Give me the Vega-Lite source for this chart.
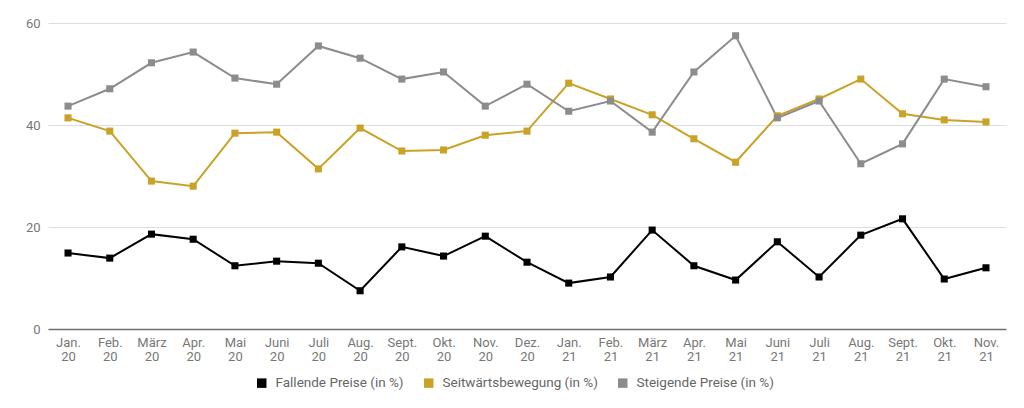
{
  "$schema": "https://vega.github.io/schema/vega-lite/v6.json",
  "width": 958,
  "height": 306,
  "autosize": {"type": "none"},
  "padding": {"left": 48, "top": 23, "right": 18, "bottom": 79},
  "background": "white",
  "data": {
    "values": [
      {"month": "Jan. 20", "series": "Fallende Preise (in %)", "value": 14.9},
      {"month": "Feb. 20", "series": "Fallende Preise (in %)", "value": 13.9},
      {"month": "März 20", "series": "Fallende Preise (in %)", "value": 18.6},
      {"month": "Apr. 20", "series": "Fallende Preise (in %)", "value": 17.6},
      {"month": "Mai 20", "series": "Fallende Preise (in %)", "value": 12.4},
      {"month": "Juni 20", "series": "Fallende Preise (in %)", "value": 13.3},
      {"month": "Juli 20", "series": "Fallende Preise (in %)", "value": 12.9},
      {"month": "Aug. 20", "series": "Fallende Preise (in %)", "value": 7.5},
      {"month": "Sept. 20", "series": "Fallende Preise (in %)", "value": 16.1},
      {"month": "Okt. 20", "series": "Fallende Preise (in %)", "value": 14.3},
      {"month": "Nov. 20", "series": "Fallende Preise (in %)", "value": 18.2},
      {"month": "Dez. 20", "series": "Fallende Preise (in %)", "value": 13.1},
      {"month": "Jan. 21", "series": "Fallende Preise (in %)", "value": 9.0},
      {"month": "Feb. 21", "series": "Fallende Preise (in %)", "value": 10.2},
      {"month": "März 21", "series": "Fallende Preise (in %)", "value": 19.4},
      {"month": "Apr. 21", "series": "Fallende Preise (in %)", "value": 12.4},
      {"month": "Mai 21", "series": "Fallende Preise (in %)", "value": 9.6},
      {"month": "Juni 21", "series": "Fallende Preise (in %)", "value": 17.1},
      {"month": "Juli 21", "series": "Fallende Preise (in %)", "value": 10.2},
      {"month": "Aug. 21", "series": "Fallende Preise (in %)", "value": 18.4},
      {"month": "Sept. 21", "series": "Fallende Preise (in %)", "value": 21.6},
      {"month": "Okt. 21", "series": "Fallende Preise (in %)", "value": 9.8},
      {"month": "Nov. 21", "series": "Fallende Preise (in %)", "value": 12.0},
      {"month": "Jan. 20", "series": "Seitwärtsbewegung (in %)", "value": 41.4},
      {"month": "Feb. 20", "series": "Seitwärtsbewegung (in %)", "value": 38.8},
      {"month": "März 20", "series": "Seitwärtsbewegung (in %)", "value": 29.0},
      {"month": "Apr. 20", "series": "Seitwärtsbewegung (in %)", "value": 28.0},
      {"month": "Mai 20", "series": "Seitwärtsbewegung (in %)", "value": 38.4},
      {"month": "Juni 20", "series": "Seitwärtsbewegung (in %)", "value": 38.6},
      {"month": "Juli 20", "series": "Seitwärtsbewegung (in %)", "value": 31.4},
      {"month": "Aug. 20", "series": "Seitwärtsbewegung (in %)", "value": 39.4},
      {"month": "Sept. 20", "series": "Seitwärtsbewegung (in %)", "value": 34.9},
      {"month": "Okt. 20", "series": "Seitwärtsbewegung (in %)", "value": 35.1},
      {"month": "Nov. 20", "series": "Seitwärtsbewegung (in %)", "value": 38.0},
      {"month": "Dez. 20", "series": "Seitwärtsbewegung (in %)", "value": 38.8},
      {"month": "Jan. 21", "series": "Seitwärtsbewegung (in %)", "value": 48.2},
      {"month": "Feb. 21", "series": "Seitwärtsbewegung (in %)", "value": 45.1},
      {"month": "März 21", "series": "Seitwärtsbewegung (in %)", "value": 42.0},
      {"month": "Apr. 21", "series": "Seitwärtsbewegung (in %)", "value": 37.3},
      {"month": "Mai 21", "series": "Seitwärtsbewegung (in %)", "value": 32.7},
      {"month": "Juni 21", "series": "Seitwärtsbewegung (in %)", "value": 41.8},
      {"month": "Juli 21", "series": "Seitwärtsbewegung (in %)", "value": 45.1},
      {"month": "Aug. 21", "series": "Seitwärtsbewegung (in %)", "value": 49.0},
      {"month": "Sept. 21", "series": "Seitwärtsbewegung (in %)", "value": 42.2},
      {"month": "Okt. 21", "series": "Seitwärtsbewegung (in %)", "value": 41.0},
      {"month": "Nov. 21", "series": "Seitwärtsbewegung (in %)", "value": 40.6},
      {"month": "Jan. 20", "series": "Steigende Preise (in %)", "value": 43.7},
      {"month": "Feb. 20", "series": "Steigende Preise (in %)", "value": 47.1},
      {"month": "März 20", "series": "Steigende Preise (in %)", "value": 52.2},
      {"month": "Apr. 20", "series": "Steigende Preise (in %)", "value": 54.3},
      {"month": "Mai 20", "series": "Steigende Preise (in %)", "value": 49.2},
      {"month": "Juni 20", "series": "Steigende Preise (in %)", "value": 48.0},
      {"month": "Juli 20", "series": "Steigende Preise (in %)", "value": 55.5},
      {"month": "Aug. 20", "series": "Steigende Preise (in %)", "value": 53.1},
      {"month": "Sept. 20", "series": "Steigende Preise (in %)", "value": 49.0},
      {"month": "Okt. 20", "series": "Steigende Preise (in %)", "value": 50.4},
      {"month": "Nov. 20", "series": "Steigende Preise (in %)", "value": 43.7},
      {"month": "Dez. 20", "series": "Steigende Preise (in %)", "value": 48.0},
      {"month": "Jan. 21", "series": "Steigende Preise (in %)", "value": 42.7},
      {"month": "Feb. 21", "series": "Steigende Preise (in %)", "value": 44.7},
      {"month": "März 21", "series": "Steigende Preise (in %)", "value": 38.6},
      {"month": "Apr. 21", "series": "Steigende Preise (in %)", "value": 50.4},
      {"month": "Mai 21", "series": "Steigende Preise (in %)", "value": 57.5},
      {"month": "Juni 21", "series": "Steigende Preise (in %)", "value": 41.4},
      {"month": "Juli 21", "series": "Steigende Preise (in %)", "value": 44.7},
      {"month": "Aug. 21", "series": "Steigende Preise (in %)", "value": 32.4},
      {"month": "Sept. 21", "series": "Steigende Preise (in %)", "value": 36.3},
      {"month": "Okt. 21", "series": "Steigende Preise (in %)", "value": 49.0},
      {"month": "Nov. 21", "series": "Steigende Preise (in %)", "value": 47.5}
    ]
  },
  "encoding": {
    "x": {
      "field": "month",
      "type": "ordinal",
      "sort": null,
      "scale": {"type": "point", "padding": 0.48},
      "title": null,
      "axis": {
        "labelAngle": 0,
        "labelExpr": "split(datum.label, ' ')",
        "labelPadding": 7,
        "labelLineHeight": 14,
        "ticks": false,
        "grid": false,
        "domainColor": "#6e6e6e",
        "domainWidth": 1.5,
        "zindex": 1
      }
    },
    "y": {
      "field": "value",
      "type": "quantitative",
      "scale": {"domain": [0, 60], "nice": false},
      "title": null,
      "axis": {
        "values": [0, 20, 40, 60],
        "ticks": false,
        "domain": false,
        "labelPadding": 8,
        "gridColor": "#dddddd",
        "gridWidth": 1
      }
    },
    "color": {
      "field": "series",
      "type": "nominal",
      "sort": null,
      "title": null,
      "scale": {
        "domain": ["Fallende Preise (in %)", "Seitwärtsbewegung (in %)", "Steigende Preise (in %)"],
        "range": ["#000000", "#c9a227", "#8c8c8c"]
      },
      "legend": {
        "orient": "none",
        "legendX": 207,
        "legendY": 353,
        "direction": "horizontal",
        "symbolType": "square",
        "symbolSize": 90,
        "symbolStrokeWidth": 0,
        "columnPadding": 18,
        "labelOffset": 7
      }
    }
  },
  "layer": [
    {"mark": {"type": "line", "strokeWidth": 2}},
    {"mark": {"type": "point", "shape": "square", "filled": true, "opacity": 1, "size": 50}}
  ],
  "config": {
    "font": "Roboto",
    "view": {"stroke": null},
    "axis": {"labelFont": "Roboto", "labelFontSize": 13, "labelColor": "#777777"},
    "legend": {"labelFont": "Roboto", "labelFontSize": 13.5, "labelColor": "#666666"}
  }
}
